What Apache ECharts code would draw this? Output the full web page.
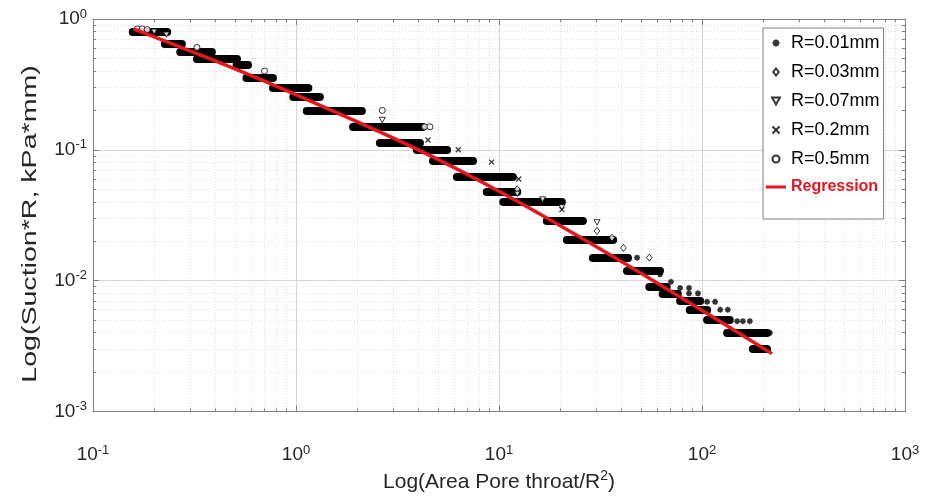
<!DOCTYPE html>
<html>
<head>
<meta charset="utf-8">
<script src="https://cdn.jsdelivr.net/npm/echarts@6/dist/echarts.min.js"></script>
<style>
  html, body { margin: 0; padding: 0; background: #fff; }
  #chart { width: 935px; height: 498px; }
</style>
</head>
<body>
<div id="chart"></div>
<script>
// axis ranges (log10)
const xRange = [0.1, 1000];
const yRange = [0.001, 1];

// horizontal streaks of overlapping markers: level, start, end
const bandY  = [0.80, 0.65, 0.566, 0.50, 0.45, 0.355, 0.30, 0.255, 0.20, 0.15, 0.113, 0.100, 0.082, 0.062, 0.048, 0.040, 0.0285, 0.0205, 0.015, 0.012, 0.009, 0.008, 0.007, 0.006, 0.005, 0.004, 0.003];
const bandX0 = [0.157, 0.226, 0.269, 0.325, 0.51, 0.57, 0.77, 0.97, 1.13, 1.91, 2.59, 3.94, 4.73, 6.2, 8.7, 10.5, 17.2, 21.6, 29, 42.7, 55, 64, 78, 87, 106, 133, 178];
const bandX1 = [0.232, 0.274, 0.385, 0.512, 0.58, 0.77, 1.15, 1.31, 2.11, 4.2, 4.08, 5.55, 7.45, 11.7, 12.3, 20.4, 25.9, 36.5, 43.2, 62, 67, 76, 98, 106, 137, 209, 209];

// isolated markers per radius
const r001X = [47.9, 62.8, 62.1, 70.3, 78, 86.3, 86.3, 95.5, 106, 116, 123, 134, 149, 159, 172, 193, 204, 216];
const r001Y = [0.0150, 0.0120, 0.0112, 0.0098, 0.0088, 0.0088, 0.0080, 0.0080, 0.0069, 0.0069, 0.0060, 0.0060, 0.0049, 0.0049, 0.0049, 0.0040, 0.0040, 0.0040];
const r003X = [30.4, 36, 41, 55, 12.3];
const r003Y = [0.0240, 0.0213, 0.0178, 0.0150, 0.050];
const r007X = [0.20, 0.23, 2.66, 16.4, 30.4, 12.3, 20.4];
const r007Y = [0.80, 0.76, 0.169, 0.0417, 0.0279, 0.046, 0.0365];
const r02X  = [4.47, 6.3, 9.2, 12.5, 20.4];
const r02Y  = [0.119, 0.100, 0.0805, 0.0599, 0.0349];
const r05X  = [0.165, 0.175, 0.185, 0.325, 0.70, 2.66, 4.3, 4.57];
const r05Y  = [0.84, 0.84, 0.83, 0.606, 0.40, 0.200, 0.150, 0.150];

// regression curve, points
const regX = [0.158, 1.05, 10.1, 221];
const regY = [0.841, 0.255, 0.0478, 0.00277];

const seriesNames = ['R=0.01mm', 'R=0.03mm', 'R=0.07mm', 'R=0.2mm', 'R=0.5mm', 'Regression'];

const FONT = 'Liberation Sans';
const RED = '#e8141e';
const pair = (xs, ys) => xs.map((x, i) => [x, ys[i]]);
const supFmt = v => '10{sup|' + Math.round(Math.log10(v)) + '}';
const labelRich = {
  sup: { fontSize: 13, fontFamily: FONT, color: '#262626', verticalAlign: 'top', padding: [0, 0, 10, 0] }
};

function logAxis(pos, range, showLabel) {
  return {
    type: 'log',
    logBase: 10,
    position: pos,
    min: range[0],
    max: range[1],
    axisLine: { show: true, onZero: false, lineStyle: { color: '#808080', width: 1 } },
    axisTick: { show: true, inside: true, length: 6, lineStyle: { color: '#808080' } },
    minorTick: { show: true, splitNumber: 9, length: 3, lineStyle: { color: '#808080' } },
    splitLine: { show: showLabel, lineStyle: { color: '#d6d6d6', width: 1 } },
    minorSplitLine: { show: showLabel, lineStyle: { color: '#dedede', type: [1, 2] } },
    axisLabel: {
      show: showLabel,
      formatter: supFmt,
      fontSize: 19,
      fontFamily: FONT,
      color: '#262626',
      rich: labelRich
    }
  };
}

const xBottom = Object.assign(logAxis('bottom', xRange, true), {
  name: 'Log(Area Pore throat/R{sup|2})',
  nameLocation: 'middle',
  nameGap: 58,
  nameTextStyle: { fontSize: 21, fontFamily: FONT, color: '#262626', rich: { sup: { fontSize: 14, fontFamily: FONT, verticalAlign: 'top', padding: [0, 0, 12, 0], color: '#262626' } } }
});
xBottom.axisLabel.margin = 32;
const yLeft = logAxis('left', yRange, true);
yLeft.axisLabel.margin = 6;

const symStyle = { color: '#fff', borderColor: '#000', borderWidth: 1 };
const diamondPath = 'path://M4,0L8,5L4,10L0,5Z';
const trianglePath = 'path://M0,0L10,0L5,9Z';

const chart = echarts.init(document.getElementById('chart'));
chart.setOption({
  animation: false,
  backgroundColor: '#fff',
  grid: { left: 93, right: 30, top: 19, bottom: 79 },
  xAxis: [xBottom, logAxis('top', xRange, false)],
  yAxis: [yLeft, logAxis('right', yRange, false)],
  graphic: [{
    type: 'text',
    x: 30,
    y: 224,
    rotation: Math.PI / 2,
    scaleX: 1.36,
    style: {
      text: 'Log(Suction*R, kPa*mm)',
      font: '21px "Liberation Sans"',
      fill: '#262626',
      align: 'center',
      verticalAlign: 'middle'
    }
  }],
  legend: {
    data: seriesNames.map((n, i) => i === 5
      ? { name: n, icon: 'path://M0,0H20V3H0Z', textStyle: { color: RED, fontWeight: 'bold', fontSize: 16 } }
      : { name: n }),
    orient: 'vertical',
    left: 763,
    top: 28,
    itemWidth: 20,
    itemHeight: 7,
    itemGap: 11,
    symbolKeepAspect: true,
    padding: [6, 4, 24, 3],
    backgroundColor: '#fff',
    borderColor: '#808080',
    borderWidth: 1,
    borderRadius: 0,
    textStyle: { fontSize: 18, fontFamily: FONT, color: '#000' }
  },
  series: [
    {
      type: 'lines',
      name: 'bands',
      coordinateSystem: 'cartesian2d',
      xAxisIndex: 0, yAxisIndex: 0,
      z: 2,
      lineStyle: { color: '#000', width: 8, opacity: 1, cap: 'round' },
      data: bandY.map((y, i) => ({ coords: [[bandX0[i], y], [bandX1[i], y]] }))
    },
    {
      name: seriesNames[0], type: 'scatter', z: 3,
      symbol: 'path://M5,0L5,10M0,5L10,5M1.5,1.5L8.5,8.5M8.5,1.5L1.5,8.5',
      symbolSize: 6, itemStyle: { color: '#000', borderColor: '#000', borderWidth: 1.6 },
      data: pair(r001X, r001Y)
    },
    {
      name: seriesNames[1], type: 'scatter', z: 3,
      symbol: diamondPath, symbolKeepAspect: true, symbolSize: 7, itemStyle: symStyle,
      data: pair(r003X, r003Y)
    },
    {
      name: seriesNames[2], type: 'scatter', z: 3,
      symbol: trianglePath, symbolKeepAspect: true, symbolSize: 6, itemStyle: symStyle,
      data: pair(r007X, r007Y)
    },
    {
      name: seriesNames[3], type: 'scatter', z: 3,
      symbol: 'path://M0,0L10,10M10,0L0,10', symbolSize: 5,
      itemStyle: { color: 'none', borderColor: '#000', borderWidth: 1.3 },
      data: pair(r02X, r02Y)
    },
    {
      name: seriesNames[4], type: 'scatter', z: 3,
      symbol: 'circle', symbolSize: 6, itemStyle: symStyle,
      data: pair(r05X, r05Y)
    },
    {
      name: seriesNames[5], type: 'line', z: 5,
      symbol: 'none',
      smooth: 0.4,
      lineStyle: { color: RED, width: 3.5 },
      itemStyle: { color: RED },
      data: pair(regX, regY)
    }
  ]
});
</script>
</body>
</html>
